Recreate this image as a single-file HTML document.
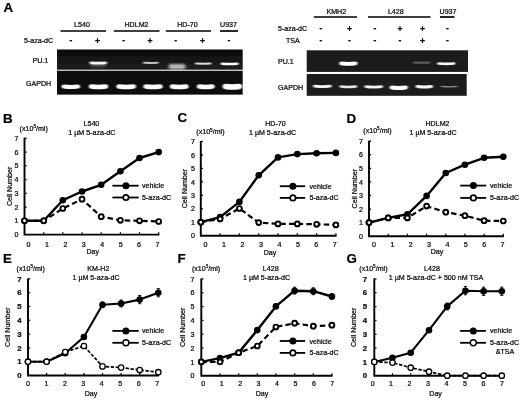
<!DOCTYPE html><html><head><meta charset="utf-8"><title>Figure</title><style>
html,body{margin:0;padding:0;background:#fff;}body{width:520px;height:400px;overflow:hidden;}svg{display:block;}
text{font-family:"Liberation Sans",sans-serif;fill:#0a0a0a;stroke:#0a0a0a;stroke-width:0.22px;}
.t{font-size:7.1px;}.b{font-weight:bold;}.by{font-size:7.8px;font-weight:bold;}.pl{font-size:13.3px;font-weight:bold;fill:#000;}
.pm{font-size:8.6px;font-weight:bold;text-anchor:middle;}.m{text-anchor:middle;}.e{text-anchor:end;}
</style></head><body>
<svg width="520" height="400" viewBox="0 0 520 400">
<defs><filter id="bl" filterUnits="userSpaceOnUse" x="0" y="0" width="520" height="110"><feGaussianBlur stdDeviation="0.9 0.6"/></filter>
<filter id="bl2" filterUnits="userSpaceOnUse" x="0" y="0" width="520" height="110"><feGaussianBlur stdDeviation="1.6 1.2"/></filter>
<filter id="soft"><feGaussianBlur stdDeviation="0.35"/></filter></defs>
<rect width="520" height="400" fill="#fff"/>
<g filter="url(#soft)">
<text x="3.5" y="12.2" class="pl">A</text>
<rect x="57" y="49.5" width="185.7" height="20.3" fill="#0a0a0a"/>
<rect x="57" y="70.6" width="185.7" height="24" fill="#0a0a0a"/>
<rect x="57" y="69.8" width="185.7" height="0.9" fill="#cfcfcf"/>
<text x="82.0" y="26.6" class="t m">L540</text>
<line x1="60.5" y1="31.0" x2="106.0" y2="31.0" stroke="#000" stroke-width="1.7"/>
<text x="136.5" y="26.6" class="t m">HDLM2</text>
<line x1="113.8" y1="31.0" x2="159.5" y2="31.0" stroke="#000" stroke-width="1.7"/>
<text x="187.5" y="26.6" class="t m">HD-70</text>
<line x1="165.8" y1="31.0" x2="211.0" y2="31.0" stroke="#000" stroke-width="1.7"/>
<text x="228.5" y="26.6" class="t m">U937</text>
<line x1="220.0" y1="31.0" x2="238.0" y2="31.0" stroke="#000" stroke-width="1.7"/>
<text x="24.0" y="43.0" class="t">5-aza-dC</text>
<text x="71.0" y="42.8" class="pm">-</text>
<text x="97.5" y="43.5" class="pm">+</text>
<text x="123.8" y="42.8" class="pm">-</text>
<text x="150.0" y="43.5" class="pm">+</text>
<text x="175.8" y="42.8" class="pm">-</text>
<text x="202.5" y="43.5" class="pm">+</text>
<text x="229.0" y="42.8" class="pm">-</text>
<text x="32.5" y="63.3" class="t">PU.1</text>
<text x="26.0" y="85.6" class="t">GAPDH</text>
<linearGradient id="gg" x1="0" y1="0" x2="0" y2="1"><stop offset="0" stop-color="#fff" stop-opacity="0"/><stop offset="1" stop-color="#fff" stop-opacity="0.09"/></linearGradient>
<rect x="57" y="49.5" width="185" height="20.3" fill="url(#gg)"/>
<path d="M91.0 62.9 Q98.3 63.3 105.6 62.9" fill="none" stroke="#fff" stroke-width="2.8" stroke-linecap="round" opacity="0.95" filter="url(#bl)"/>
<path d="M92.2 64.4 Q98.2 64.8 104.2 64.4" fill="none" stroke="#fff" stroke-width="4.5" stroke-linecap="round" opacity="0.25" filter="url(#bl2)"/>
<path d="M144.0 62.8 Q150.8 63.1 157.7 62.8" fill="none" stroke="#fff" stroke-width="2.0" stroke-linecap="round" opacity="0.75" filter="url(#bl)"/>
<path d="M171.1 66.6 Q177.1 66.6 183.0 66.6" fill="none" stroke="#fff" stroke-width="5.2" stroke-linecap="round" opacity="0.70" filter="url(#bl2)"/>
<path d="M196.0 63.6 Q203.2 63.9 210.5 63.6" fill="none" stroke="#fff" stroke-width="2.0" stroke-linecap="round" opacity="0.85" filter="url(#bl)"/>
<path d="M222.1 63.7 Q229.7 64.4 237.2 63.7" fill="none" stroke="#fff" stroke-width="2.6" stroke-linecap="round" opacity="1.00" filter="url(#bl)"/>
<path d="M222.8 63.7 Q229.5 64.4 236.2 63.7" fill="none" stroke="#fff" stroke-width="1.6" stroke-linecap="round" opacity="1.00" filter="url(#bl)"/>
<path d="M63.8 86.5 Q70.8 87.5 77.9 86.5" fill="none" stroke="#fff" stroke-width="4.2" stroke-linecap="round" opacity="1.00" filter="url(#bl)"/>
<path d="M64.2 86.5 Q70.8 87.5 77.5 86.5" fill="none" stroke="#fff" stroke-width="2.6" stroke-linecap="round" opacity="1.00" filter="url(#bl)"/>
<path d="M91.3 86.5 Q98.5 87.5 105.7 86.5" fill="none" stroke="#fff" stroke-width="4.7" stroke-linecap="round" opacity="1.00" filter="url(#bl)"/>
<path d="M91.8 86.5 Q98.5 87.5 105.2 86.5" fill="none" stroke="#fff" stroke-width="3.1" stroke-linecap="round" opacity="1.00" filter="url(#bl)"/>
<path d="M118.8 86.5 Q126.2 87.5 133.5 86.5" fill="none" stroke="#fff" stroke-width="4.7" stroke-linecap="round" opacity="1.00" filter="url(#bl)"/>
<path d="M119.2 86.5 Q126.2 87.5 133.1 86.5" fill="none" stroke="#fff" stroke-width="3.1" stroke-linecap="round" opacity="1.00" filter="url(#bl)"/>
<path d="M145.8 86.5 Q153.0 87.5 160.2 86.5" fill="none" stroke="#fff" stroke-width="4.7" stroke-linecap="round" opacity="1.00" filter="url(#bl)"/>
<path d="M146.2 86.5 Q153.0 87.5 159.8 86.5" fill="none" stroke="#fff" stroke-width="3.1" stroke-linecap="round" opacity="1.00" filter="url(#bl)"/>
<path d="M172.2 86.5 Q179.2 87.5 186.3 86.5" fill="none" stroke="#fff" stroke-width="4.4" stroke-linecap="round" opacity="1.00" filter="url(#bl)"/>
<path d="M172.6 86.5 Q179.2 87.5 185.9 86.5" fill="none" stroke="#fff" stroke-width="2.8" stroke-linecap="round" opacity="1.00" filter="url(#bl)"/>
<path d="M199.3 86.5 Q205.8 87.5 212.3 86.5" fill="none" stroke="#fff" stroke-width="4.6" stroke-linecap="round" opacity="1.00" filter="url(#bl)"/>
<path d="M199.7 86.5 Q205.8 87.5 211.9 86.5" fill="none" stroke="#fff" stroke-width="3.0" stroke-linecap="round" opacity="1.00" filter="url(#bl)"/>
<path d="M225.4 86.5 Q232.3 87.5 239.3 86.5" fill="none" stroke="#fff" stroke-width="5.4" stroke-linecap="round" opacity="1.00" filter="url(#bl)"/>
<path d="M225.8 86.5 Q232.3 87.5 238.9 86.5" fill="none" stroke="#fff" stroke-width="3.8" stroke-linecap="round" opacity="1.00" filter="url(#bl)"/>
<rect x="306.7" y="50.3" width="161.3" height="21.6" fill="#1a1a1a"/>
<rect x="306.7" y="74" width="160" height="21.8" fill="#1a1a1a"/>
<text x="336.3" y="14.4" class="t m">KMH2</text>
<line x1="313.8" y1="17.0" x2="357.0" y2="17.0" stroke="#000" stroke-width="1.7"/>
<text x="395.8" y="14.4" class="t m">L428</text>
<line x1="368.0" y1="17.0" x2="430.5" y2="17.0" stroke="#000" stroke-width="1.7"/>
<text x="448.0" y="14.4" class="t m">U937</text>
<line x1="440.0" y1="17.0" x2="454.5" y2="17.0" stroke="#000" stroke-width="1.7"/>
<text x="278.0" y="31.3" class="t">5-aza-dC</text>
<text x="286.0" y="43.0" class="t">TSA</text>
<text x="321.0" y="31.1" class="pm">-</text>
<text x="349.5" y="31.8" class="pm">+</text>
<text x="375.0" y="31.1" class="pm">-</text>
<text x="400.0" y="31.8" class="pm">+</text>
<text x="422.5" y="31.8" class="pm">+</text>
<text x="447.5" y="31.1" class="pm">-</text>
<text x="321.0" y="42.8" class="pm">-</text>
<text x="349.5" y="42.8" class="pm">-</text>
<text x="375.0" y="42.8" class="pm">-</text>
<text x="400.0" y="42.8" class="pm">-</text>
<text x="422.5" y="43.5" class="pm">+</text>
<text x="447.5" y="42.8" class="pm">-</text>
<text x="278.0" y="63.5" class="t">PU.1</text>
<text x="278.0" y="89.5" class="t">GAPDH</text>
<path d="M341.2 63.4 Q348.4 64.4 355.5 63.4" fill="none" stroke="#fff" stroke-width="3.6" stroke-linecap="round" opacity="1.00" filter="url(#bl)"/>
<path d="M341.7 63.4 Q348.4 64.4 355.1 63.4" fill="none" stroke="#fff" stroke-width="2.2" stroke-linecap="round" opacity="1.00" filter="url(#bl)"/>
<path d="M414.1 62.7 Q421.7 62.8 429.3 62.7" fill="none" stroke="#fff" stroke-width="2.2" stroke-linecap="round" opacity="0.30" filter="url(#bl)"/>
<path d="M438.7 63.5 Q446.4 64.2 454.0 63.5" fill="none" stroke="#fff" stroke-width="2.7" stroke-linecap="round" opacity="0.95" filter="url(#bl)"/>
<path d="M439.2 63.5 Q446.4 64.2 453.4 63.5" fill="none" stroke="#fff" stroke-width="1.5" stroke-linecap="round" opacity="0.90" filter="url(#bl)"/>
<path d="M314.4 86.1 Q322.4 87.1 330.3 86.1" fill="none" stroke="#fff" stroke-width="2.8" stroke-linecap="round" opacity="0.90" filter="url(#bl)"/>
<path d="M315.1 86.1 Q322.4 87.1 329.6 86.1" fill="none" stroke="#fff" stroke-width="1.2" stroke-linecap="round" opacity="0.72" filter="url(#bl)"/>
<path d="M340.7 86.5 Q348.4 87.5 356.0 86.5" fill="none" stroke="#fff" stroke-width="2.6" stroke-linecap="round" opacity="0.85" filter="url(#bl)"/>
<path d="M341.4 86.5 Q348.4 87.5 355.3 86.5" fill="none" stroke="#fff" stroke-width="1.0" stroke-linecap="round" opacity="0.68" filter="url(#bl)"/>
<path d="M365.8 86.6 Q373.7 87.6 381.6 86.6" fill="none" stroke="#fff" stroke-width="2.8" stroke-linecap="round" opacity="0.90" filter="url(#bl)"/>
<path d="M366.5 86.6 Q373.7 87.6 380.9 86.6" fill="none" stroke="#fff" stroke-width="1.2" stroke-linecap="round" opacity="0.72" filter="url(#bl)"/>
<path d="M391.6 87.4 Q398.8 88.4 405.9 87.4" fill="none" stroke="#fff" stroke-width="4.0" stroke-linecap="round" opacity="1.00" filter="url(#bl)"/>
<path d="M392.3 87.4 Q398.8 88.4 405.2 87.4" fill="none" stroke="#fff" stroke-width="2.4" stroke-linecap="round" opacity="0.80" filter="url(#bl)"/>
<path d="M417.1 86.4 Q424.2 87.4 431.4 86.4" fill="none" stroke="#fff" stroke-width="3.0" stroke-linecap="round" opacity="0.95" filter="url(#bl)"/>
<path d="M417.8 86.4 Q424.2 87.4 430.7 86.4" fill="none" stroke="#fff" stroke-width="1.4" stroke-linecap="round" opacity="0.76" filter="url(#bl)"/>
<path d="M441.3 86.4 Q449.2 87.4 457.2 86.4" fill="none" stroke="#fff" stroke-width="1.4" stroke-linecap="round" opacity="0.50" filter="url(#bl)"/>
<text x="3.0" y="122.6" class="pl">B</text>
<text x="19.6" y="130.5" class="t">(x10<tspan font-size="4.6" dy="-2.6">5</tspan><tspan dy="2.6">/ml)</tspan></text>
<text x="91.4" y="125.6" class="t m">L540</text>
<text x="91.8" y="135.3" class="t m">1 µM 5-aza-dC</text>
<path d="M24.5 137.8 V234.6 H159.3" fill="none" stroke="#000" stroke-width="1.9"/>
<line x1="24.5" y1="220.8" x2="26.7" y2="220.8" stroke="#000" stroke-width="1.2"/>
<line x1="24.5" y1="207.1" x2="26.7" y2="207.1" stroke="#000" stroke-width="1.2"/>
<line x1="24.5" y1="193.3" x2="26.7" y2="193.3" stroke="#000" stroke-width="1.2"/>
<line x1="24.5" y1="179.6" x2="26.7" y2="179.6" stroke="#000" stroke-width="1.2"/>
<line x1="24.5" y1="165.8" x2="26.7" y2="165.8" stroke="#000" stroke-width="1.2"/>
<line x1="24.5" y1="152.1" x2="26.7" y2="152.1" stroke="#000" stroke-width="1.2"/>
<line x1="24.5" y1="138.3" x2="26.7" y2="138.3" stroke="#000" stroke-width="1.2"/>
<line x1="43.7" y1="234.6" x2="43.7" y2="232.2" stroke="#000" stroke-width="1.2"/>
<line x1="62.8" y1="234.6" x2="62.8" y2="232.2" stroke="#000" stroke-width="1.2"/>
<line x1="82.0" y1="234.6" x2="82.0" y2="232.2" stroke="#000" stroke-width="1.2"/>
<line x1="101.2" y1="234.6" x2="101.2" y2="232.2" stroke="#000" stroke-width="1.2"/>
<line x1="120.4" y1="234.6" x2="120.4" y2="232.2" stroke="#000" stroke-width="1.2"/>
<line x1="139.5" y1="234.6" x2="139.5" y2="232.2" stroke="#000" stroke-width="1.2"/>
<line x1="158.7" y1="234.6" x2="158.7" y2="232.2" stroke="#000" stroke-width="1.2"/>
<text x="18.5" y="237.2" class="t e">0</text>
<text x="18.5" y="223.4" class="t e">1</text>
<text x="18.5" y="209.7" class="t e">2</text>
<text x="18.5" y="195.9" class="t e">3</text>
<text x="18.5" y="182.2" class="t e">4</text>
<text x="18.5" y="168.4" class="t e">5</text>
<text x="18.5" y="154.7" class="t e">6</text>
<text x="18.5" y="140.9" class="t e">7</text>
<text x="28.5" y="247.0" class="t m">0</text>
<text x="46.9" y="247.0" class="t m">1</text>
<text x="65.4" y="247.0" class="t m">2</text>
<text x="83.8" y="247.0" class="t m">3</text>
<text x="102.2" y="247.0" class="t m">4</text>
<text x="120.7" y="247.0" class="t m">5</text>
<text x="139.1" y="247.0" class="t m">6</text>
<text x="157.5" y="247.0" class="t m">7</text>
<text x="92.7" y="253.6" class="t m">Day</text>
<text class="t m" transform="translate(12.0 186.4) rotate(-90)">Cell Number</text>
<polyline points="24.5,220.8 43.7,220.8 62.8,208.5 82.0,199.2 101.2,216.7 120.4,220.3 139.5,220.8 158.7,221.5" fill="none" stroke="#000" stroke-width="2.2" stroke-dasharray="5.5 3.2"/>
<polyline points="24.5,220.8 43.7,220.8 62.8,200.2 82.0,191.5 101.2,184.8 120.4,171.3 139.5,158.0 158.7,152.1" fill="none" stroke="#000" stroke-width="2.4" stroke-linejoin="round"/>
<line x1="139.5" y1="160.0" x2="139.5" y2="155.9" stroke="#000" stroke-width="1.1"/>
<line x1="137.9" y1="160.0" x2="141.1" y2="160.0" stroke="#000" stroke-width="0.9"/>
<line x1="137.9" y1="155.9" x2="141.1" y2="155.9" stroke="#000" stroke-width="0.9"/>
<line x1="158.7" y1="154.5" x2="158.7" y2="149.6" stroke="#000" stroke-width="1.1"/>
<line x1="157.1" y1="154.5" x2="160.3" y2="154.5" stroke="#000" stroke-width="0.9"/>
<line x1="157.1" y1="149.6" x2="160.3" y2="149.6" stroke="#000" stroke-width="0.9"/>
<circle cx="24.5" cy="220.8" r="3.3" fill="#000"/>
<circle cx="43.7" cy="220.8" r="3.3" fill="#000"/>
<circle cx="62.8" cy="200.2" r="3.3" fill="#000"/>
<circle cx="82.0" cy="191.5" r="3.3" fill="#000"/>
<circle cx="101.2" cy="184.8" r="3.3" fill="#000"/>
<circle cx="120.4" cy="171.3" r="3.3" fill="#000"/>
<circle cx="139.5" cy="158.0" r="3.3" fill="#000"/>
<circle cx="158.7" cy="152.1" r="3.3" fill="#000"/>
<circle cx="24.5" cy="220.8" r="2.40" fill="#fff" stroke="#000" stroke-width="1.9"/>
<circle cx="43.7" cy="220.8" r="2.40" fill="#fff" stroke="#000" stroke-width="1.9"/>
<circle cx="62.8" cy="208.5" r="2.40" fill="#fff" stroke="#000" stroke-width="1.9"/>
<circle cx="82.0" cy="199.2" r="2.40" fill="#fff" stroke="#000" stroke-width="1.9"/>
<circle cx="101.2" cy="216.7" r="2.40" fill="#fff" stroke="#000" stroke-width="1.9"/>
<circle cx="120.4" cy="220.3" r="2.40" fill="#fff" stroke="#000" stroke-width="1.9"/>
<circle cx="139.5" cy="220.8" r="2.40" fill="#fff" stroke="#000" stroke-width="1.9"/>
<circle cx="158.7" cy="221.5" r="2.40" fill="#fff" stroke="#000" stroke-width="1.9"/>
<line x1="112.4" y1="185.7" x2="138.7" y2="185.7" stroke="#000" stroke-width="1.8"/>
<circle cx="125.9" cy="185.7" r="3.5" fill="#000"/>
<text x="142.0" y="188.2" class="t">vehicle</text>
<line x1="112.4" y1="197.5" x2="138.7" y2="197.5" stroke="#000" stroke-width="1.8"/>
<circle cx="125.9" cy="197.5" r="2.7" fill="#fff" stroke="#000" stroke-width="1.7"/>
<text x="142.0" y="200.0" class="t">5-aza-dC</text>
<text x="177.5" y="121.9" class="pl">C</text>
<text x="196.3" y="134.4" class="t">(x10<tspan font-size="4.6" dy="-2.6">5</tspan><tspan dy="2.6">/ml)</tspan></text>
<text x="275.4" y="125.6" class="t m">HD-70</text>
<text x="272.5" y="135.3" class="t m">1 µM 5-aza-dC</text>
<path d="M200.8 141.0 V235.7 H336.5" fill="none" stroke="#000" stroke-width="1.9"/>
<line x1="200.8" y1="222.2" x2="203.0" y2="222.2" stroke="#000" stroke-width="1.2"/>
<line x1="200.8" y1="208.8" x2="203.0" y2="208.8" stroke="#000" stroke-width="1.2"/>
<line x1="200.8" y1="195.3" x2="203.0" y2="195.3" stroke="#000" stroke-width="1.2"/>
<line x1="200.8" y1="181.9" x2="203.0" y2="181.9" stroke="#000" stroke-width="1.2"/>
<line x1="200.8" y1="168.4" x2="203.0" y2="168.4" stroke="#000" stroke-width="1.2"/>
<line x1="200.8" y1="155.0" x2="203.0" y2="155.0" stroke="#000" stroke-width="1.2"/>
<line x1="200.8" y1="141.5" x2="203.0" y2="141.5" stroke="#000" stroke-width="1.2"/>
<line x1="220.1" y1="235.7" x2="220.1" y2="233.3" stroke="#000" stroke-width="1.2"/>
<line x1="239.4" y1="235.7" x2="239.4" y2="233.3" stroke="#000" stroke-width="1.2"/>
<line x1="258.7" y1="235.7" x2="258.7" y2="233.3" stroke="#000" stroke-width="1.2"/>
<line x1="278.0" y1="235.7" x2="278.0" y2="233.3" stroke="#000" stroke-width="1.2"/>
<line x1="297.3" y1="235.7" x2="297.3" y2="233.3" stroke="#000" stroke-width="1.2"/>
<line x1="316.6" y1="235.7" x2="316.6" y2="233.3" stroke="#000" stroke-width="1.2"/>
<line x1="335.9" y1="235.7" x2="335.9" y2="233.3" stroke="#000" stroke-width="1.2"/>
<text x="195.0" y="238.3" class="t e">0</text>
<text x="195.0" y="224.8" class="t e">1</text>
<text x="195.0" y="211.4" class="t e">2</text>
<text x="195.0" y="197.9" class="t e">3</text>
<text x="195.0" y="184.5" class="t e">4</text>
<text x="195.0" y="171.0" class="t e">5</text>
<text x="195.0" y="157.6" class="t e">6</text>
<text x="195.0" y="144.1" class="t e">7</text>
<text x="205.6" y="247.0" class="t m">0</text>
<text x="224.0" y="247.0" class="t m">1</text>
<text x="242.5" y="247.0" class="t m">2</text>
<text x="260.9" y="247.0" class="t m">3</text>
<text x="279.4" y="247.0" class="t m">4</text>
<text x="297.9" y="247.0" class="t m">5</text>
<text x="316.3" y="247.0" class="t m">6</text>
<text x="334.8" y="247.0" class="t m">7</text>
<text x="270.0" y="255.0" class="t m">Day</text>
<text class="t m" transform="translate(187.4 188.6) rotate(-90)">Cell Number</text>
<polyline points="200.8,222.2 220.1,218.9 239.4,208.5 258.7,222.6 278.0,223.9 297.3,223.9 316.6,224.3 335.9,224.9" fill="none" stroke="#000" stroke-width="2.2" stroke-dasharray="5.5 3.2"/>
<polyline points="200.8,222.2 220.1,217.1 239.4,201.9 258.7,175.3 278.0,157.4 297.3,154.1 316.6,153.3 335.9,152.9" fill="none" stroke="#000" stroke-width="2.4" stroke-linejoin="round"/>
<circle cx="200.8" cy="222.2" r="3.3" fill="#000"/>
<circle cx="220.1" cy="217.1" r="3.3" fill="#000"/>
<circle cx="239.4" cy="201.9" r="3.3" fill="#000"/>
<circle cx="258.7" cy="175.3" r="3.3" fill="#000"/>
<circle cx="278.0" cy="157.4" r="3.3" fill="#000"/>
<circle cx="297.3" cy="154.1" r="3.3" fill="#000"/>
<circle cx="316.6" cy="153.3" r="3.3" fill="#000"/>
<circle cx="335.9" cy="152.9" r="3.3" fill="#000"/>
<circle cx="200.8" cy="222.2" r="2.40" fill="#fff" stroke="#000" stroke-width="1.9"/>
<circle cx="220.1" cy="218.9" r="2.40" fill="#fff" stroke="#000" stroke-width="1.9"/>
<circle cx="239.4" cy="208.5" r="2.40" fill="#fff" stroke="#000" stroke-width="1.9"/>
<circle cx="258.7" cy="222.6" r="2.40" fill="#fff" stroke="#000" stroke-width="1.9"/>
<circle cx="278.0" cy="223.9" r="2.40" fill="#fff" stroke="#000" stroke-width="1.9"/>
<circle cx="297.3" cy="223.9" r="2.40" fill="#fff" stroke="#000" stroke-width="1.9"/>
<circle cx="316.6" cy="224.3" r="2.40" fill="#fff" stroke="#000" stroke-width="1.9"/>
<circle cx="335.9" cy="224.9" r="2.40" fill="#fff" stroke="#000" stroke-width="1.9"/>
<line x1="279.8" y1="186.2" x2="305.2" y2="186.2" stroke="#000" stroke-width="1.8"/>
<circle cx="292.9" cy="186.2" r="3.5" fill="#000"/>
<text x="309.5" y="188.7" class="t">vehicle</text>
<line x1="279.8" y1="197.9" x2="305.2" y2="197.9" stroke="#000" stroke-width="1.8"/>
<circle cx="292.9" cy="197.9" r="2.7" fill="#fff" stroke="#000" stroke-width="1.7"/>
<text x="309.5" y="200.4" class="t">5-aza-dC</text>
<text x="346.5" y="122.8" class="pl">D</text>
<text x="363.3" y="133.0" class="t">(x10<tspan font-size="4.6" dy="-2.6">5</tspan><tspan dy="2.6">/ml)</tspan></text>
<text x="437.5" y="125.8" class="t m">HDLM2</text>
<text x="433.0" y="135.3" class="t m">1 µM 5-aza-dC</text>
<path d="M369.0 140.7 V236.2 H503.9" fill="none" stroke="#000" stroke-width="1.9"/>
<line x1="369.0" y1="222.6" x2="371.2" y2="222.6" stroke="#000" stroke-width="1.2"/>
<line x1="369.0" y1="209.1" x2="371.2" y2="209.1" stroke="#000" stroke-width="1.2"/>
<line x1="369.0" y1="195.5" x2="371.2" y2="195.5" stroke="#000" stroke-width="1.2"/>
<line x1="369.0" y1="181.9" x2="371.2" y2="181.9" stroke="#000" stroke-width="1.2"/>
<line x1="369.0" y1="168.3" x2="371.2" y2="168.3" stroke="#000" stroke-width="1.2"/>
<line x1="369.0" y1="154.8" x2="371.2" y2="154.8" stroke="#000" stroke-width="1.2"/>
<line x1="369.0" y1="141.2" x2="371.2" y2="141.2" stroke="#000" stroke-width="1.2"/>
<line x1="388.2" y1="236.2" x2="388.2" y2="233.8" stroke="#000" stroke-width="1.2"/>
<line x1="407.4" y1="236.2" x2="407.4" y2="233.8" stroke="#000" stroke-width="1.2"/>
<line x1="426.6" y1="236.2" x2="426.6" y2="233.8" stroke="#000" stroke-width="1.2"/>
<line x1="445.8" y1="236.2" x2="445.8" y2="233.8" stroke="#000" stroke-width="1.2"/>
<line x1="464.9" y1="236.2" x2="464.9" y2="233.8" stroke="#000" stroke-width="1.2"/>
<line x1="484.1" y1="236.2" x2="484.1" y2="233.8" stroke="#000" stroke-width="1.2"/>
<line x1="503.3" y1="236.2" x2="503.3" y2="233.8" stroke="#000" stroke-width="1.2"/>
<text x="363.0" y="238.8" class="t e">0</text>
<text x="363.0" y="225.2" class="t e">1</text>
<text x="363.0" y="211.7" class="t e">2</text>
<text x="363.0" y="198.1" class="t e">3</text>
<text x="363.0" y="184.5" class="t e">4</text>
<text x="363.0" y="170.9" class="t e">5</text>
<text x="363.0" y="157.4" class="t e">6</text>
<text x="363.0" y="143.8" class="t e">7</text>
<text x="374.0" y="247.3" class="t m">0</text>
<text x="392.4" y="247.3" class="t m">1</text>
<text x="410.7" y="247.3" class="t m">2</text>
<text x="429.1" y="247.3" class="t m">3</text>
<text x="447.4" y="247.3" class="t m">4</text>
<text x="465.8" y="247.3" class="t m">5</text>
<text x="484.2" y="247.3" class="t m">6</text>
<text x="502.5" y="247.3" class="t m">7</text>
<text x="437.0" y="253.6" class="t m">Day</text>
<text class="t m" transform="translate(356.5 188.7) rotate(-90)">Cell Number</text>
<polyline points="369.0,222.6 388.2,217.9 407.4,217.9 426.6,206.1 445.8,212.2 464.9,215.7 484.1,220.7 503.3,221.0" fill="none" stroke="#000" stroke-width="2.2" stroke-dasharray="5.5 3.2"/>
<polyline points="369.0,222.6 388.2,217.9 407.4,214.3 426.6,195.9 445.8,173.0 464.9,164.7 484.1,157.8 503.3,156.8" fill="none" stroke="#000" stroke-width="2.4" stroke-linejoin="round"/>
<line x1="484.1" y1="159.4" x2="484.1" y2="156.1" stroke="#000" stroke-width="1.1"/>
<line x1="482.5" y1="159.4" x2="485.7" y2="159.4" stroke="#000" stroke-width="0.9"/>
<line x1="482.5" y1="156.1" x2="485.7" y2="156.1" stroke="#000" stroke-width="0.9"/>
<line x1="503.3" y1="158.8" x2="503.3" y2="154.8" stroke="#000" stroke-width="1.1"/>
<line x1="501.7" y1="158.8" x2="504.9" y2="158.8" stroke="#000" stroke-width="0.9"/>
<line x1="501.7" y1="154.8" x2="504.9" y2="154.8" stroke="#000" stroke-width="0.9"/>
<circle cx="369.0" cy="222.6" r="3.3" fill="#000"/>
<circle cx="388.2" cy="217.9" r="3.3" fill="#000"/>
<circle cx="407.4" cy="214.3" r="3.3" fill="#000"/>
<circle cx="426.6" cy="195.9" r="3.3" fill="#000"/>
<circle cx="445.8" cy="173.0" r="3.3" fill="#000"/>
<circle cx="464.9" cy="164.7" r="3.3" fill="#000"/>
<circle cx="484.1" cy="157.8" r="3.3" fill="#000"/>
<circle cx="503.3" cy="156.8" r="3.3" fill="#000"/>
<circle cx="369.0" cy="222.6" r="2.40" fill="#fff" stroke="#000" stroke-width="1.9"/>
<circle cx="388.2" cy="217.9" r="2.40" fill="#fff" stroke="#000" stroke-width="1.9"/>
<circle cx="407.4" cy="217.9" r="2.40" fill="#fff" stroke="#000" stroke-width="1.9"/>
<circle cx="426.6" cy="206.1" r="2.40" fill="#fff" stroke="#000" stroke-width="1.9"/>
<circle cx="445.8" cy="212.2" r="2.40" fill="#fff" stroke="#000" stroke-width="1.9"/>
<circle cx="464.9" cy="215.7" r="2.40" fill="#fff" stroke="#000" stroke-width="1.9"/>
<circle cx="484.1" cy="220.7" r="2.40" fill="#fff" stroke="#000" stroke-width="1.9"/>
<circle cx="503.3" cy="221.0" r="2.40" fill="#fff" stroke="#000" stroke-width="1.9"/>
<line x1="460.3" y1="185.6" x2="486.2" y2="185.6" stroke="#000" stroke-width="1.8"/>
<circle cx="473.4" cy="185.6" r="3.5" fill="#000"/>
<text x="490.0" y="188.1" class="t">vehicle</text>
<line x1="460.3" y1="197.9" x2="486.2" y2="197.9" stroke="#000" stroke-width="1.8"/>
<circle cx="473.4" cy="197.9" r="2.7" fill="#fff" stroke="#000" stroke-width="1.7"/>
<text x="490.0" y="200.4" class="t">5-aza-dC</text>
<text x="3.0" y="262.5" class="pl">E</text>
<text x="16.6" y="270.5" class="t">(x10<tspan font-size="4.6" dy="-2.6">5</tspan><tspan dy="2.6">/ml)</tspan></text>
<text x="98.4" y="271.2" class="t m">KM-H2</text>
<text x="96.0" y="280.4" class="t m">1 µM 5-aza-dC</text>
<path d="M28.0 278.4 V375.5 H158.9" fill="none" stroke="#000" stroke-width="1.9"/>
<line x1="28.0" y1="361.7" x2="30.2" y2="361.7" stroke="#000" stroke-width="1.2"/>
<line x1="28.0" y1="347.9" x2="30.2" y2="347.9" stroke="#000" stroke-width="1.2"/>
<line x1="28.0" y1="334.1" x2="30.2" y2="334.1" stroke="#000" stroke-width="1.2"/>
<line x1="28.0" y1="320.3" x2="30.2" y2="320.3" stroke="#000" stroke-width="1.2"/>
<line x1="28.0" y1="306.5" x2="30.2" y2="306.5" stroke="#000" stroke-width="1.2"/>
<line x1="28.0" y1="292.7" x2="30.2" y2="292.7" stroke="#000" stroke-width="1.2"/>
<line x1="28.0" y1="278.9" x2="30.2" y2="278.9" stroke="#000" stroke-width="1.2"/>
<line x1="46.6" y1="375.5" x2="46.6" y2="373.1" stroke="#000" stroke-width="1.2"/>
<line x1="65.2" y1="375.5" x2="65.2" y2="373.1" stroke="#000" stroke-width="1.2"/>
<line x1="83.9" y1="375.5" x2="83.9" y2="373.1" stroke="#000" stroke-width="1.2"/>
<line x1="102.5" y1="375.5" x2="102.5" y2="373.1" stroke="#000" stroke-width="1.2"/>
<line x1="121.1" y1="375.5" x2="121.1" y2="373.1" stroke="#000" stroke-width="1.2"/>
<line x1="139.7" y1="375.5" x2="139.7" y2="373.1" stroke="#000" stroke-width="1.2"/>
<line x1="158.3" y1="375.5" x2="158.3" y2="373.1" stroke="#000" stroke-width="1.2"/>
<text x="21.5" y="378.1" class="t e by">0</text>
<text x="21.5" y="364.3" class="t e by">1</text>
<text x="21.5" y="350.5" class="t e by">2</text>
<text x="21.5" y="336.7" class="t e by">3</text>
<text x="21.5" y="322.9" class="t e by">4</text>
<text x="21.5" y="309.1" class="t e by">5</text>
<text x="21.5" y="295.3" class="t e by">6</text>
<text x="21.5" y="281.5" class="t e by">7</text>
<text x="28.0" y="385.7" class="t m">0</text>
<text x="46.5" y="385.7" class="t m">1</text>
<text x="64.9" y="385.7" class="t m">2</text>
<text x="83.3" y="385.7" class="t m">3</text>
<text x="101.8" y="385.7" class="t m">4</text>
<text x="120.2" y="385.7" class="t m">5</text>
<text x="138.7" y="385.7" class="t m">6</text>
<text x="157.2" y="385.7" class="t m">7</text>
<text x="91.0" y="395.6" class="t m">Day</text>
<text class="t m" transform="translate(10.2 327.2) rotate(-90)">Cell Number</text>
<polyline points="28.0,361.7 46.6,361.7 65.2,352.0 83.9,346.0 102.5,366.4 121.1,367.6 139.7,370.0 158.3,372.2" fill="none" stroke="#000" stroke-width="1.7" stroke-dasharray="3.4 1.6"/>
<polyline points="28.0,361.7 46.6,361.7 65.2,353.3 83.9,337.0 102.5,304.8 121.1,303.5 139.7,299.6 158.3,292.7" fill="none" stroke="#000" stroke-width="2.1" stroke-linejoin="round"/>
<line x1="102.5" y1="307.6" x2="102.5" y2="302.1" stroke="#000" stroke-width="1.1"/>
<line x1="100.9" y1="307.6" x2="104.1" y2="307.6" stroke="#000" stroke-width="0.9"/>
<line x1="100.9" y1="302.1" x2="104.1" y2="302.1" stroke="#000" stroke-width="0.9"/>
<line x1="121.1" y1="306.9" x2="121.1" y2="300.0" stroke="#000" stroke-width="1.1"/>
<line x1="119.5" y1="306.9" x2="122.7" y2="306.9" stroke="#000" stroke-width="0.9"/>
<line x1="119.5" y1="300.0" x2="122.7" y2="300.0" stroke="#000" stroke-width="0.9"/>
<line x1="139.7" y1="303.7" x2="139.7" y2="295.5" stroke="#000" stroke-width="1.1"/>
<line x1="138.1" y1="303.7" x2="141.3" y2="303.7" stroke="#000" stroke-width="0.9"/>
<line x1="138.1" y1="295.5" x2="141.3" y2="295.5" stroke="#000" stroke-width="0.9"/>
<line x1="158.3" y1="296.8" x2="158.3" y2="288.6" stroke="#000" stroke-width="1.1"/>
<line x1="156.7" y1="296.8" x2="159.9" y2="296.8" stroke="#000" stroke-width="0.9"/>
<line x1="156.7" y1="288.6" x2="159.9" y2="288.6" stroke="#000" stroke-width="0.9"/>
<circle cx="28.0" cy="361.7" r="3.3" fill="#000"/>
<circle cx="46.6" cy="361.7" r="3.3" fill="#000"/>
<circle cx="65.2" cy="353.3" r="3.3" fill="#000"/>
<circle cx="83.9" cy="337.0" r="3.3" fill="#000"/>
<circle cx="102.5" cy="304.8" r="3.3" fill="#000"/>
<circle cx="121.1" cy="303.5" r="3.3" fill="#000"/>
<circle cx="139.7" cy="299.6" r="3.3" fill="#000"/>
<circle cx="158.3" cy="292.7" r="3.3" fill="#000"/>
<circle cx="28.0" cy="361.7" r="2.70" fill="#fff" stroke="#000" stroke-width="1.3"/>
<circle cx="46.6" cy="361.7" r="2.70" fill="#fff" stroke="#000" stroke-width="1.3"/>
<circle cx="65.2" cy="352.0" r="2.70" fill="#fff" stroke="#000" stroke-width="1.3"/>
<circle cx="83.9" cy="346.0" r="2.70" fill="#fff" stroke="#000" stroke-width="1.3"/>
<circle cx="102.5" cy="366.4" r="2.70" fill="#fff" stroke="#000" stroke-width="1.3"/>
<circle cx="121.1" cy="367.6" r="2.70" fill="#fff" stroke="#000" stroke-width="1.3"/>
<circle cx="139.7" cy="370.0" r="2.70" fill="#fff" stroke="#000" stroke-width="1.3"/>
<circle cx="158.3" cy="372.2" r="2.70" fill="#fff" stroke="#000" stroke-width="1.3"/>
<line x1="112.4" y1="330.9" x2="138.7" y2="330.9" stroke="#000" stroke-width="1.8"/>
<circle cx="125.9" cy="330.9" r="3.5" fill="#000"/>
<text x="142.0" y="333.4" class="t">vehicle</text>
<line x1="112.4" y1="342.8" x2="138.7" y2="342.8" stroke="#000" stroke-width="1.8"/>
<circle cx="125.9" cy="342.8" r="3.0" fill="#fff" stroke="#000" stroke-width="1.4"/>
<text x="142.0" y="345.3" class="t">5-aza-dC</text>
<text x="177.5" y="262.5" class="pl">F</text>
<text x="191.9" y="270.5" class="t">(x10<tspan font-size="4.6" dy="-2.6">5</tspan><tspan dy="2.6">/ml)</tspan></text>
<text x="270.7" y="271.2" class="t m">L428</text>
<text x="266.5" y="280.4" class="t m">1 µM 5-aza-dC</text>
<path d="M201.3 278.4 V375.7 H332.5" fill="none" stroke="#000" stroke-width="1.9"/>
<line x1="201.3" y1="361.9" x2="203.5" y2="361.9" stroke="#000" stroke-width="1.2"/>
<line x1="201.3" y1="348.0" x2="203.5" y2="348.0" stroke="#000" stroke-width="1.2"/>
<line x1="201.3" y1="334.2" x2="203.5" y2="334.2" stroke="#000" stroke-width="1.2"/>
<line x1="201.3" y1="320.4" x2="203.5" y2="320.4" stroke="#000" stroke-width="1.2"/>
<line x1="201.3" y1="306.6" x2="203.5" y2="306.6" stroke="#000" stroke-width="1.2"/>
<line x1="201.3" y1="292.7" x2="203.5" y2="292.7" stroke="#000" stroke-width="1.2"/>
<line x1="201.3" y1="278.9" x2="203.5" y2="278.9" stroke="#000" stroke-width="1.2"/>
<line x1="220.0" y1="375.7" x2="220.0" y2="373.3" stroke="#000" stroke-width="1.2"/>
<line x1="238.6" y1="375.7" x2="238.6" y2="373.3" stroke="#000" stroke-width="1.2"/>
<line x1="257.3" y1="375.7" x2="257.3" y2="373.3" stroke="#000" stroke-width="1.2"/>
<line x1="275.9" y1="375.7" x2="275.9" y2="373.3" stroke="#000" stroke-width="1.2"/>
<line x1="294.6" y1="375.7" x2="294.6" y2="373.3" stroke="#000" stroke-width="1.2"/>
<line x1="313.3" y1="375.7" x2="313.3" y2="373.3" stroke="#000" stroke-width="1.2"/>
<line x1="331.9" y1="375.7" x2="331.9" y2="373.3" stroke="#000" stroke-width="1.2"/>
<text x="194.5" y="378.3" class="t e">0</text>
<text x="194.5" y="364.5" class="t e">1</text>
<text x="194.5" y="350.6" class="t e">2</text>
<text x="194.5" y="336.8" class="t e">3</text>
<text x="194.5" y="323.0" class="t e">4</text>
<text x="194.5" y="309.2" class="t e">5</text>
<text x="194.5" y="295.3" class="t e">6</text>
<text x="194.5" y="281.5" class="t e">7</text>
<text x="203.3" y="385.7" class="t m">0</text>
<text x="221.7" y="385.7" class="t m">1</text>
<text x="240.2" y="385.7" class="t m">2</text>
<text x="258.6" y="385.7" class="t m">3</text>
<text x="277.0" y="385.7" class="t m">4</text>
<text x="295.5" y="385.7" class="t m">5</text>
<text x="313.9" y="385.7" class="t m">6</text>
<text x="332.3" y="385.7" class="t m">7</text>
<text x="262.0" y="395.6" class="t m">Day</text>
<text class="t m" transform="translate(184.8 327.3) rotate(-90)">Cell Number</text>
<polyline points="201.3,361.9 220.0,362.0 238.6,352.7 257.3,346.0 275.9,327.0 294.6,323.2 313.3,326.2 331.9,325.2" fill="none" stroke="#000" stroke-width="2.2" stroke-dasharray="5.5 3.2"/>
<polyline points="201.3,361.9 220.0,358.1 238.6,352.7 257.3,330.1 275.9,306.4 294.6,290.7 313.3,291.2 331.9,296.5" fill="none" stroke="#000" stroke-width="2.4" stroke-linejoin="round"/>
<line x1="294.6" y1="294.1" x2="294.6" y2="287.2" stroke="#000" stroke-width="1.1"/>
<line x1="293.0" y1="294.1" x2="296.2" y2="294.1" stroke="#000" stroke-width="0.9"/>
<line x1="293.0" y1="287.2" x2="296.2" y2="287.2" stroke="#000" stroke-width="0.9"/>
<line x1="313.3" y1="294.7" x2="313.3" y2="287.8" stroke="#000" stroke-width="1.1"/>
<line x1="311.7" y1="294.7" x2="314.9" y2="294.7" stroke="#000" stroke-width="0.9"/>
<line x1="311.7" y1="287.8" x2="314.9" y2="287.8" stroke="#000" stroke-width="0.9"/>
<line x1="331.9" y1="299.2" x2="331.9" y2="293.7" stroke="#000" stroke-width="1.1"/>
<line x1="330.3" y1="299.2" x2="333.5" y2="299.2" stroke="#000" stroke-width="0.9"/>
<line x1="330.3" y1="293.7" x2="333.5" y2="293.7" stroke="#000" stroke-width="0.9"/>
<circle cx="201.3" cy="361.9" r="3.3" fill="#000"/>
<circle cx="220.0" cy="358.1" r="3.3" fill="#000"/>
<circle cx="238.6" cy="352.7" r="3.3" fill="#000"/>
<circle cx="257.3" cy="330.1" r="3.3" fill="#000"/>
<circle cx="275.9" cy="306.4" r="3.3" fill="#000"/>
<circle cx="294.6" cy="290.7" r="3.3" fill="#000"/>
<circle cx="313.3" cy="291.2" r="3.3" fill="#000"/>
<circle cx="331.9" cy="296.5" r="3.3" fill="#000"/>
<circle cx="201.3" cy="361.9" r="2.40" fill="#fff" stroke="#000" stroke-width="1.9"/>
<circle cx="220.0" cy="362.0" r="2.40" fill="#fff" stroke="#000" stroke-width="1.9"/>
<circle cx="238.6" cy="352.7" r="2.40" fill="#fff" stroke="#000" stroke-width="1.9"/>
<circle cx="257.3" cy="346.0" r="2.40" fill="#fff" stroke="#000" stroke-width="1.9"/>
<circle cx="275.9" cy="327.0" r="2.40" fill="#fff" stroke="#000" stroke-width="1.9"/>
<circle cx="294.6" cy="323.2" r="2.40" fill="#fff" stroke="#000" stroke-width="1.9"/>
<circle cx="313.3" cy="326.2" r="2.40" fill="#fff" stroke="#000" stroke-width="1.9"/>
<circle cx="331.9" cy="325.2" r="2.40" fill="#fff" stroke="#000" stroke-width="1.9"/>
<line x1="279.8" y1="341.0" x2="305.2" y2="341.0" stroke="#000" stroke-width="1.8"/>
<circle cx="292.9" cy="341.0" r="3.5" fill="#000"/>
<text x="309.5" y="343.5" class="t">vehicle</text>
<line x1="279.8" y1="352.9" x2="305.2" y2="352.9" stroke="#000" stroke-width="1.8"/>
<circle cx="292.9" cy="352.9" r="2.7" fill="#fff" stroke="#000" stroke-width="1.7"/>
<text x="309.5" y="355.4" class="t">5-aza-dC</text>
<text x="346.5" y="262.5" class="pl">G</text>
<text x="359.3" y="270.5" class="t">(x10<tspan font-size="4.6" dy="-2.6">5</tspan><tspan dy="2.6">/ml)</tspan></text>
<text x="432.0" y="271.2" class="t m">L428</text>
<text x="436.0" y="280.4" class="t m">1 µM 5-aza-dC + 500 nM TSA</text>
<path d="M374.3 278.4 V375.7 H502.4" fill="none" stroke="#000" stroke-width="1.9"/>
<line x1="374.3" y1="361.9" x2="376.5" y2="361.9" stroke="#000" stroke-width="1.2"/>
<line x1="374.3" y1="348.0" x2="376.5" y2="348.0" stroke="#000" stroke-width="1.2"/>
<line x1="374.3" y1="334.2" x2="376.5" y2="334.2" stroke="#000" stroke-width="1.2"/>
<line x1="374.3" y1="320.4" x2="376.5" y2="320.4" stroke="#000" stroke-width="1.2"/>
<line x1="374.3" y1="306.6" x2="376.5" y2="306.6" stroke="#000" stroke-width="1.2"/>
<line x1="374.3" y1="292.7" x2="376.5" y2="292.7" stroke="#000" stroke-width="1.2"/>
<line x1="374.3" y1="278.9" x2="376.5" y2="278.9" stroke="#000" stroke-width="1.2"/>
<line x1="392.5" y1="375.7" x2="392.5" y2="373.3" stroke="#000" stroke-width="1.2"/>
<line x1="410.7" y1="375.7" x2="410.7" y2="373.3" stroke="#000" stroke-width="1.2"/>
<line x1="429.0" y1="375.7" x2="429.0" y2="373.3" stroke="#000" stroke-width="1.2"/>
<line x1="447.2" y1="375.7" x2="447.2" y2="373.3" stroke="#000" stroke-width="1.2"/>
<line x1="465.4" y1="375.7" x2="465.4" y2="373.3" stroke="#000" stroke-width="1.2"/>
<line x1="483.6" y1="375.7" x2="483.6" y2="373.3" stroke="#000" stroke-width="1.2"/>
<line x1="501.8" y1="375.7" x2="501.8" y2="373.3" stroke="#000" stroke-width="1.2"/>
<text x="367.0" y="378.3" class="t e by">0</text>
<text x="367.0" y="364.5" class="t e by">1</text>
<text x="367.0" y="350.6" class="t e by">2</text>
<text x="367.0" y="336.8" class="t e by">3</text>
<text x="367.0" y="323.0" class="t e by">4</text>
<text x="367.0" y="309.2" class="t e by">5</text>
<text x="367.0" y="295.3" class="t e by">6</text>
<text x="367.0" y="281.5" class="t e by">7</text>
<text x="372.7" y="385.7" class="t m">0</text>
<text x="391.1" y="385.7" class="t m">1</text>
<text x="409.6" y="385.7" class="t m">2</text>
<text x="428.0" y="385.7" class="t m">3</text>
<text x="446.5" y="385.7" class="t m">4</text>
<text x="464.9" y="385.7" class="t m">5</text>
<text x="483.4" y="385.7" class="t m">6</text>
<text x="501.9" y="385.7" class="t m">7</text>
<text x="435.6" y="395.6" class="t m">Day</text>
<text class="t m" transform="translate(355.6 327.3) rotate(-90)">Cell Number</text>
<polyline points="374.3,361.9 392.5,362.6 410.7,367.7 429.0,371.7 447.2,375.7 465.4,375.7 483.6,375.7 501.8,375.7" fill="none" stroke="#000" stroke-width="1.7" stroke-dasharray="3.4 1.6"/>
<polyline points="374.3,361.9 392.5,357.7 410.7,352.7 429.0,330.2 447.2,306.4 465.4,290.7 483.6,291.2 501.8,291.2" fill="none" stroke="#000" stroke-width="2.1" stroke-linejoin="round"/>
<line x1="447.2" y1="309.9" x2="447.2" y2="303.0" stroke="#000" stroke-width="1.1"/>
<line x1="445.6" y1="309.9" x2="448.8" y2="309.9" stroke="#000" stroke-width="0.9"/>
<line x1="445.6" y1="303.0" x2="448.8" y2="303.0" stroke="#000" stroke-width="0.9"/>
<line x1="465.4" y1="294.8" x2="465.4" y2="286.5" stroke="#000" stroke-width="1.1"/>
<line x1="463.8" y1="294.8" x2="467.0" y2="294.8" stroke="#000" stroke-width="0.9"/>
<line x1="463.8" y1="286.5" x2="467.0" y2="286.5" stroke="#000" stroke-width="0.9"/>
<line x1="483.6" y1="295.4" x2="483.6" y2="287.1" stroke="#000" stroke-width="1.1"/>
<line x1="482.0" y1="295.4" x2="485.2" y2="295.4" stroke="#000" stroke-width="0.9"/>
<line x1="482.0" y1="287.1" x2="485.2" y2="287.1" stroke="#000" stroke-width="0.9"/>
<line x1="501.8" y1="295.4" x2="501.8" y2="287.1" stroke="#000" stroke-width="1.1"/>
<line x1="500.2" y1="295.4" x2="503.4" y2="295.4" stroke="#000" stroke-width="0.9"/>
<line x1="500.2" y1="287.1" x2="503.4" y2="287.1" stroke="#000" stroke-width="0.9"/>
<circle cx="374.3" cy="361.9" r="3.3" fill="#000"/>
<circle cx="392.5" cy="357.7" r="3.3" fill="#000"/>
<circle cx="410.7" cy="352.7" r="3.3" fill="#000"/>
<circle cx="429.0" cy="330.2" r="3.3" fill="#000"/>
<circle cx="447.2" cy="306.4" r="3.3" fill="#000"/>
<circle cx="465.4" cy="290.7" r="3.3" fill="#000"/>
<circle cx="483.6" cy="291.2" r="3.3" fill="#000"/>
<circle cx="501.8" cy="291.2" r="3.3" fill="#000"/>
<circle cx="374.3" cy="361.9" r="2.70" fill="#fff" stroke="#000" stroke-width="1.3"/>
<circle cx="392.5" cy="362.6" r="2.70" fill="#fff" stroke="#000" stroke-width="1.3"/>
<circle cx="410.7" cy="367.7" r="2.70" fill="#fff" stroke="#000" stroke-width="1.3"/>
<circle cx="429.0" cy="371.7" r="2.70" fill="#fff" stroke="#000" stroke-width="1.3"/>
<circle cx="447.2" cy="375.7" r="2.70" fill="#fff" stroke="#000" stroke-width="1.3"/>
<circle cx="465.4" cy="375.7" r="2.70" fill="#fff" stroke="#000" stroke-width="1.3"/>
<circle cx="483.6" cy="375.7" r="2.70" fill="#fff" stroke="#000" stroke-width="1.3"/>
<circle cx="501.8" cy="375.7" r="2.70" fill="#fff" stroke="#000" stroke-width="1.3"/>
<line x1="460.1" y1="330.9" x2="486.0" y2="330.9" stroke="#000" stroke-width="1.8"/>
<circle cx="473.3" cy="330.9" r="3.5" fill="#000"/>
<text x="490.0" y="333.4" class="t">vehicle</text>
<line x1="460.1" y1="342.8" x2="486.0" y2="342.8" stroke="#000" stroke-width="1.8"/>
<circle cx="473.3" cy="342.8" r="3.0" fill="#fff" stroke="#000" stroke-width="1.4"/>
<text x="490.0" y="345.3" class="t">5-aza-dC</text>
<text x="495.7" y="354.0" class="t">&amp;TSA</text>
</g></svg></body></html>
